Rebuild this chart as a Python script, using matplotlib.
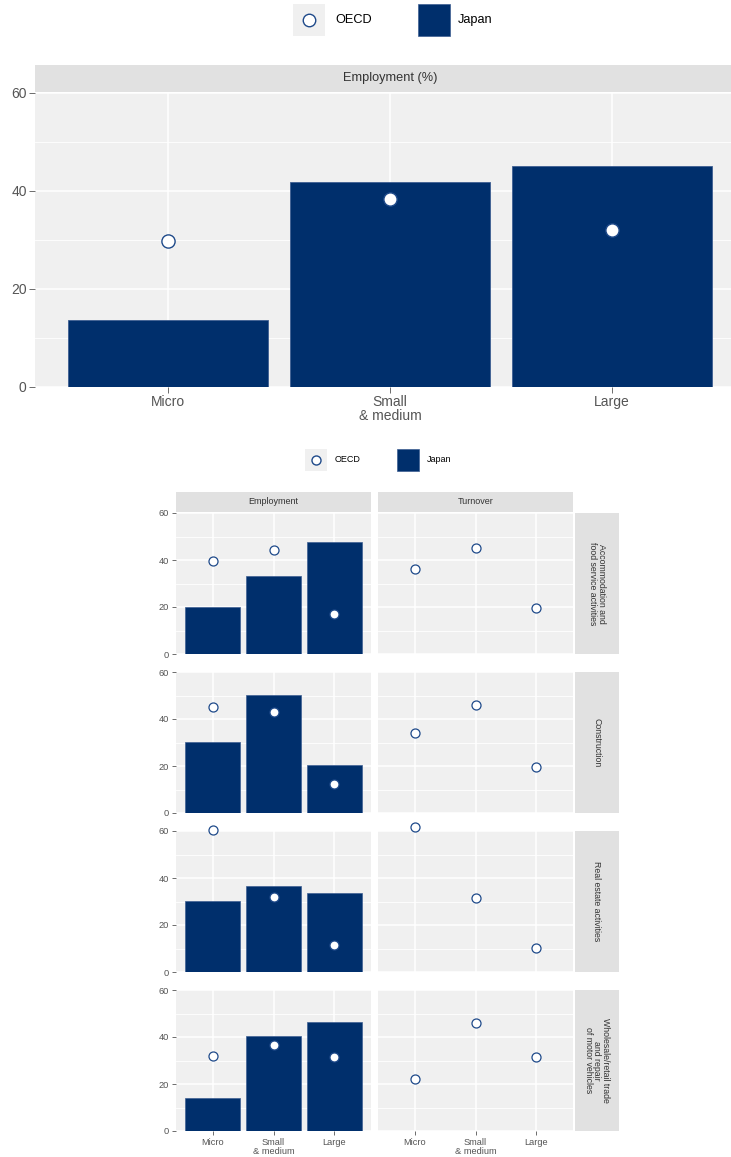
import numpy as np
import matplotlib.pyplot as plt
from matplotlib.patches import Rectangle
from matplotlib.lines import Line2D

plt.rcParams['font.family'] = ['Liberation Sans', 'DejaVu Sans']

# ---- data ----
sizes = ["Micro", "Small\n& medium", "Large"]

# top chart: whole economy, employment (%)
top_japan = [13.6, 41.8, 45.2]
top_oecd = [29.7, 38.3, 32.1]

# bottom chart: one row per sector
sectors = ["Accommodation and\nfood service activities",
           "Construction",
           "Real estate activities",
           "Wholesale/retail trade\nand repair\nof motor vehicles"]
measures = ["Employment", "Turnover"]

emp_japan = [[19.8, 33.0, 47.8],
             [30.1, 50.2, 20.5],
             [30.3, 36.8, 33.6],
             [13.9, 40.6, 46.5]]
emp_oecd = [[39.4, 44.4, 16.9],
            [44.9, 42.9, 12.3],
            [60.3, 31.9, 11.7],
            [32.1, 36.6, 31.3]]
turn_oecd = [[36.2, 44.9, 19.4],
             [34.1, 45.9, 19.7],
             [61.8, 31.5, 10.1],
             [22.3, 46.0, 31.7]]

# ---- styling ----
navy = '#002F6C'
bar_edge = '#3E5F92'
mk_edge = '#1F4A8A'
panel_bg = '#F0F0F0'
strip_bg = '#E1E1E1'
tick_col = '#555555'
text_col = '#333333'

W, H = 731, 1157
fig = plt.figure(figsize=(W / 100, H / 100), dpi=100)


def rect(l, t, r, b):
    # pixel box -> figure fraction
    return [l / W, 1 - b / H, (r - l) / W, (b - t) / H]


def style_panel(ax, fs, ticklen):
    ax.set_facecolor(panel_bg)
    for s in ax.spines.values():
        s.set_visible(False)
    ax.set_xlim(-0.6, 2.6)
    ax.set_ylim(0, 60)
    ax.set_xticks(range(3))
    ax.set_yticks([0, 20, 40, 60])
    ax.set_yticks([10, 30, 50], minor=True)
    ax.grid(which='major', color='white', lw=1.1)
    ax.grid(which='minor', axis='y', color='white', lw=0.6)
    ax.set_axisbelow(True)
    ax.tick_params(which='major', colors=tick_col, labelsize=fs,
                   length=ticklen, width=0.6, pad=2)
    ax.tick_params(which='minor', length=0)


def strip(box, label, fs, rotation=0):
    sax = fig.add_axes(rect(*box))
    sax.set_facecolor(strip_bg)
    sax.set_xticks([])
    sax.set_yticks([])
    for s in sax.spines.values():
        s.set_visible(False)
    sax.text(0.5, 0.5, label, ha='center', va='center', fontsize=fs,
             color=text_col, rotation=rotation, transform=sax.transAxes,
             linespacing=0.95)


def legend(x_key1, x_txt1, x_key2, x_txt2, yc, key, fs, ms):
    fig.add_artist(Rectangle(((x_key1 - key / 2) / W, 1 - (yc + key / 2) / H),
                             key / W, key / H, transform=fig.transFigure,
                             facecolor=panel_bg, edgecolor='none'))
    fig.add_artist(Line2D([x_key1 / W], [1 - yc / H], marker='o', ms=ms,
                          mfc='white', mec=mk_edge, mew=1.0,
                          transform=fig.transFigure))
    fig.text(x_txt1 / W, 1 - yc / H, "OECD", fontsize=fs, va='center',
             color='black')
    fig.add_artist(Rectangle(((x_key2 - key / 2) / W, 1 - (yc + key / 2) / H),
                             key / W, key / H, transform=fig.transFigure,
                             facecolor=navy, edgecolor=bar_edge, lw=0.5))
    fig.text(x_txt2 / W, 1 - yc / H, "Japan", fontsize=fs, va='center',
             color='black')


# ---- top chart ----
legend(309, 335, 434, 458, 20, 32, 9.2, 9)
strip((35, 65, 745, 92), "Employment (%)", 9.2)
ax = fig.add_axes(rect(35, 93, 745, 387))
style_panel(ax, 10, 4)
x = np.arange(3)
ax.bar(x, top_japan, width=0.9, color=navy, edgecolor=bar_edge, lw=0.6)
ax.plot(x, top_oecd, 'o', ls='none', ms=9.5, mfc='white', mec=mk_edge,
        mew=1.0, clip_on=False, zorder=5)
ax.set_xticklabels(sizes, linespacing=1.0)

# ---- bottom chart ----
legend(316, 335, 408, 427, 460, 22, 6.5, 6.5)
cols = [(176, 371), (378, 573)]
rows = [(513, 654), (672, 813), (831, 972), (990, 1131)]
for j, m in enumerate(measures):
    strip((cols[j][0], 492, cols[j][1], 512), m, 6.5)
for i, sec in enumerate(sectors):
    t, b = rows[i]
    strip((575, t, 619, b), sec, 6.3, rotation=-90)
    for j in range(2):
        l, r = cols[j]
        ax = fig.add_axes(rect(l, t, r, b))
        style_panel(ax, 6.7, 3 if j == 0 else 0)
        if j == 0:
            ax.bar(x, emp_japan[i], width=0.9, color=navy,
                   edgecolor=bar_edge, lw=0.5)
            vals = emp_oecd[i]
        else:
            vals = turn_oecd[i]
            ax.tick_params(axis='y', labelleft=False)
        ax.plot(x, vals, 'o', ls='none', ms=6.5, mfc='white', mec=mk_edge,
                mew=0.9, clip_on=False, zorder=5)
        if i == len(sectors) - 1:
            ax.set_xticklabels(sizes, linespacing=0.95)
            ax.tick_params(axis='x', length=3)
        else:
            ax.tick_params(axis='x', labelbottom=False, length=0)

fig.savefig('out.png', dpi=100)
